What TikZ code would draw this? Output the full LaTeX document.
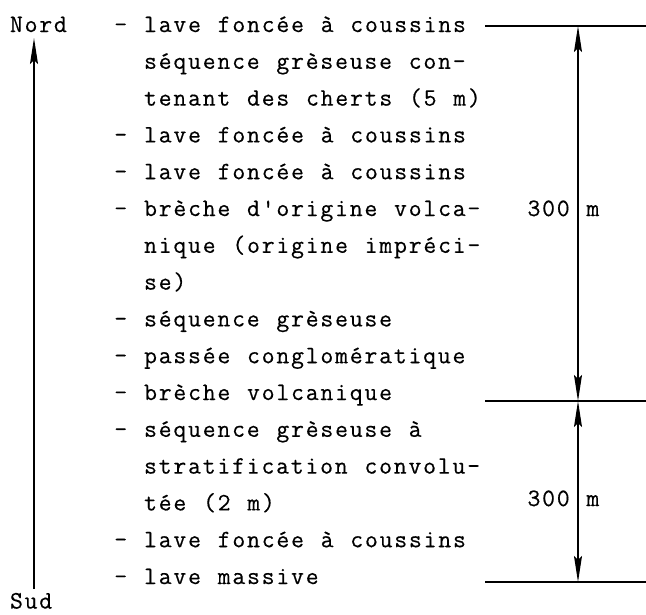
\documentclass[tikz,border=0pt]{standalone}
\usepackage{fontspec}
\newfontfamily\typew{Latin Modern Mono}[LetterSpace=7.2, WordSpace=1.14, FakeBold=0.4]
\usetikzlibrary{arrows.meta}
\begin{document}
\begin{tikzpicture}[x=1pt,y=-1pt,
  txt/.style={anchor=base west, inner sep=0pt, outer sep=0pt, font=\fontsize{25}{30}\typew},
  rulel/.style={line width=1.3pt},
  tipS/.tip={Stealth[length=26pt,width=8pt,inset=4pt]},
  dimline/.style={line width=1.2pt, tipS-tipS},
  axis/.style={line width=1.3pt, -{Stealth[length=26pt,width=8pt,inset=4pt]}},
]
\useasboundingbox (0,0) rectangle (646,614);
% left column
\node[txt] (nord) at (10,32) {Nord};
\node[txt] (sud) at (10,608.5) {Sud};
\coordinate (axbot) at (34,589);
\coordinate (axtop) at (34,38);
\draw[axis] (axbot) -- (axtop);
% dashes and text
\node[txt] (d1) at (114.3,32.0) {-};
\node[txt] (l1) at (144.1,32.0) {lave foncée à coussins};
\node[txt] (l2) at (144.1,68.8) {séquence grèseuse con-};
\node[txt] (l3) at (144.1,105.6) {tenant des cherts (5 m)};
\node[txt] (d4) at (114.3,142.4) {-};
\node[txt] (l4) at (144.1,142.4) {lave foncée à coussins};
\node[txt] (d5) at (114.3,179.2) {-};
\node[txt] (l5) at (144.1,179.2) {lave foncée à coussins};
\node[txt] (d6) at (114.3,216.0) {-};
\node[txt] (l6) at (144.1,216.0) {brèche d'origine volca-};
\node[txt] (l7) at (144.1,252.8) {nique (origine impréci-};
\node[txt] (l8) at (144.1,289.6) {se)};
\node[txt] (d9) at (114.3,326.4) {-};
\node[txt] (l9) at (144.1,326.4) {séquence grèseuse};
\node[txt] (d10) at (114.3,363.2) {-};
\node[txt] (l10) at (144.1,363.2) {passée conglomératique};
\node[txt] (d11) at (114.3,400.0) {-};
\node[txt] (l11) at (144.1,400.0) {brèche volcanique};
\node[txt] (d12) at (114.3,436.8) {-};
\node[txt] (l12) at (144.1,436.8) {séquence grèseuse à};
\node[txt] (l13) at (144.1,473.6) {stratification convolu-};
\node[txt] (l14) at (144.1,510.4) {tée (2 m)};
\node[txt] (d15) at (114.3,547.2) {-};
\node[txt] (l15) at (144.1,547.2) {lave foncée à coussins};
\node[txt] (d16) at (114.3,584.0) {-};
\node[txt] (l16) at (144.1,584.0) {lave massive};
% dimension rules
\coordinate (r1a) at (485,26);  \coordinate (r1b) at (646,26);
\coordinate (r2a) at (485,401); \coordinate (r2b) at (646,401);
\coordinate (r3a) at (485,582); \coordinate (r3b) at (646,582);
\draw[rulel] (r1a) -- (r1b);
\draw[rulel] (r2a) -- (r2b);
\draw[rulel] (r3a) -- (r3b);
\coordinate (v1) at (578,26);
\coordinate (v2) at (578,401);
\coordinate (v3) at (578,582);
\draw[dimline] (v1) -- (v2);
\draw[dimline] (v2) -- (v3);
\node[txt] (h1) at (527.5,216) {300 m};
\node[txt] (h2) at (527.5,506) {300 m};
\end{tikzpicture}
\end{document}
